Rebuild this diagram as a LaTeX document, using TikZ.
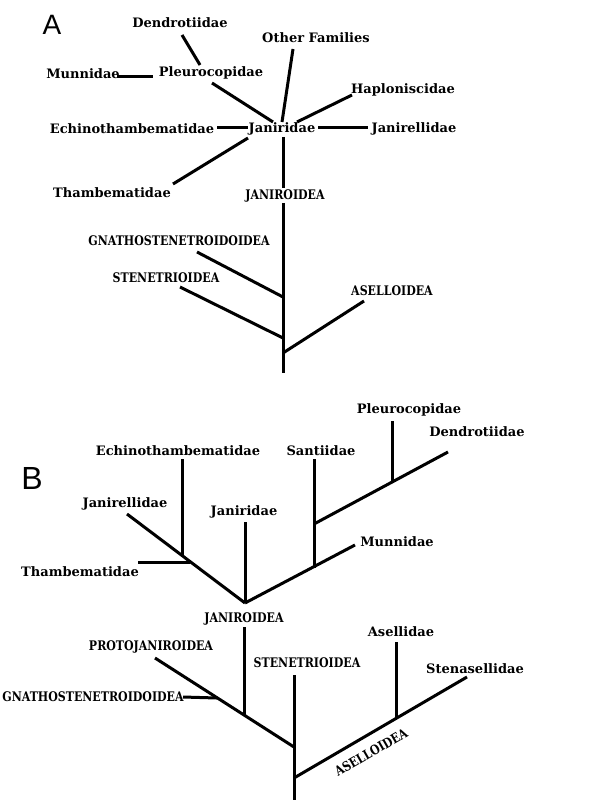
\documentclass[tikz,border=0pt]{standalone}
\usepackage{fontspec}
\setmainfont{DejaVu Serif}
\setsansfont{Liberation Sans}
\usepackage{graphicx}
\newcommand\capt[1]{\scalebox{1}[1.2]{#1}}
\begin{document}
\begin{tikzpicture}[x=1pt,y=-1pt,
  lab/.style={inner sep=0pt,font=\bfseries\fontsize{13}{13}\selectfont},
  caplab/.style={inner sep=0pt,font=\bfseries\fontsize{11}{11}\selectfont},
  panel/.style={inner sep=0pt,font=\sffamily\fontsize{28}{28}\selectfont},
  br/.style={line width=3pt}]
\useasboundingbox (0,0) rectangle (605,802);
% ---------- Panel A ----------
\node[panel] (pA) at (52,25) {A};
\node[lab] (dendA) at (180,23) {Dendrotiidae};
\node[lab] (othA) at (316,38) {Other Families};
\node[lab] (munA) at (83,74) {Munnidae};
\node[lab] (pleuA) at (211,73) {Pleurocopidae};
\node[lab] (hapA) at (403,90) {Haploniscidae};
\node[lab] (echA) at (132,129) {Echinothambematidae};
\node[lab] (janA) at (282,129) {Janiridae};
\node[lab] (jnrA) at (414,129) {Janirellidae};
\node[lab] (thaA) at (112,193) {Thambematidae};
\node[caplab] (jrdA) at (285,196) {\capt{JANIROIDEA}};
\node[caplab] (gnaA) at (179,241) {\capt{GNATHOSTENETROIDOIDEA}};
\node[caplab] (steA) at (166,278) {\capt{STENETRIOIDEA}};
\node[caplab] (aseA) at (392,291) {\capt{ASELLOIDEA}};
\coordinate (a1) at (182,35); \coordinate (a2) at (200,65);
\coordinate (a3) at (293,49); \coordinate (a4) at (282,122);
\coordinate (a5) at (117,77); \coordinate (a6) at (153,77);
\coordinate (a7) at (212,83); \coordinate (a8) at (273,122);
\coordinate (a9) at (352,95); \coordinate (a10) at (297,122);
\coordinate (a11) at (217,128); \coordinate (a12) at (248,128);
\coordinate (a13) at (318,128); \coordinate (a14) at (368,128);
\coordinate (a15) at (283,137); \coordinate (a16) at (283,188);
\coordinate (a17) at (248,138); \coordinate (a18) at (173,184);
\coordinate (a19) at (283,203); \coordinate (a20) at (283,373);
\coordinate (a21) at (197,252); \coordinate (a22) at (283,297);
\coordinate (a23) at (180,287); \coordinate (a24) at (283,338);
\coordinate (a25) at (364,301); \coordinate (a26) at (283,353);
\draw[br] (a1) -- (a2);
\draw[br] (a3) -- (a4);
\draw[br] (a5) -- (a6);
\draw[br] (a7) -- (a8);
\draw[br] (a9) -- (a10);
\draw[br] (a11) -- (a12);
\draw[br] (a13) -- (a14);
\draw[br] (a15) -- (a16);
\draw[br] (a17) -- (a18);
\draw[br] (a19) -- (a20);
\draw[br] (a21) -- (a22);
\draw[br] (a23) -- (a24);
\draw[br] (a25) -- (a26);
% ---------- Panel B ----------
\node[panel,font=\sffamily\fontsize{32}{32}\selectfont] (pB) at (32,478) {B};
\node[lab] (pleuB) at (409,410) {Pleurocopidae};
\node[lab] (dendB) at (477,432) {Dendrotiidae};
\node[lab] (echB) at (178,451) {Echinothambematidae};
\node[lab] (sanB) at (321,451) {Santiidae};
\node[lab] (jnrB) at (125,504) {Janirellidae};
\node[lab] (janB) at (244,512) {Janiridae};
\node[lab] (munB) at (397,542) {Munnidae};
\node[lab] (thaB) at (80,572) {Thambematidae};
\node[caplab] (jrdB) at (244,619) {\capt{JANIROIDEA}};
\node[caplab] (proB) at (151,647) {\capt{PROTOJANIROIDEA}};
\node[caplab] (gnaB) at (93,697) {\capt{GNATHOSTENETROIDOIDEA}};
\node[caplab] (steB) at (307,663) {\capt{STENETRIOIDEA}};
\node[lab] (aslB) at (401,632) {Asellidae};
\node[lab] (stsB) at (475,669) {Stenasellidae};
\node[caplab,rotate=30] (aseB) at (371,752) {\capt{ASELLOIDEA}};
\coordinate (b1) at (392,421); \coordinate (b2) at (392,482);
\coordinate (b3) at (448,452); \coordinate (b4) at (314,524);
\coordinate (b5) at (314,459); \coordinate (b6) at (314,568);
\coordinate (b7) at (355,545); \coordinate (root1) at (245,603);
\coordinate (b8) at (127,514);
\coordinate (b9) at (182,459); \coordinate (b10) at (182,556);
\coordinate (b11) at (138,562); \coordinate (b12) at (190,562);
\coordinate (b13) at (245,522);
\coordinate (b14) at (244,627); \coordinate (b15) at (244,715);
\coordinate (b16) at (155,658); \coordinate (b17) at (294,747);
\coordinate (b18) at (183,697); \coordinate (b19) at (217,698);
\coordinate (b20) at (294,675); \coordinate (b21) at (294,800);
\coordinate (b22) at (396,642); \coordinate (b23) at (396,718);
\coordinate (b24) at (467,677); \coordinate (b25) at (294,778);
\draw[br] (b1) -- (b2);
\draw[br] (b3) -- (b4);
\draw[br] (b5) -- (b6);
\draw[br] (b7) -- (root1);
\draw[br] (b8) -- (root1);
\draw[br] (b9) -- (b10);
\draw[br] (b11) -- (b12);
\draw[br] (b13) -- (root1);
\draw[br] (b14) -- (b15);
\draw[br] (b16) -- (b17);
\draw[br] (b18) -- (b19);
\draw[br] (b20) -- (b21);
\draw[br] (b22) -- (b23);
\draw[br] (b24) -- (b25);
\end{tikzpicture}
\end{document}
